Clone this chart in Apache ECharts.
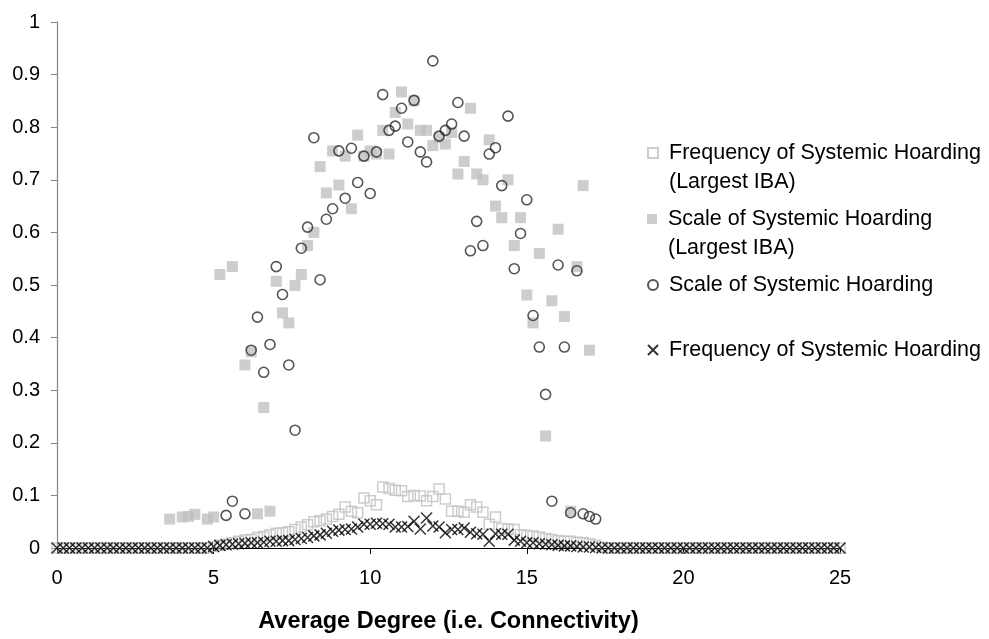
<!DOCTYPE html>
<html>
<head>
<meta charset="utf-8">
<script src="https://cdn.jsdelivr.net/npm/echarts@6/dist/echarts.min.js"></script>
<style>html,body{margin:0;padding:0;background:#fff}#c{width:989px;height:639px}</style>
</head>
<body>
<div id="c"></div>
<script>
// Average degree grid (x values)
var degree = [
0,0.2,0.4,0.6,0.8,1,1.2,1.4,1.6,1.8,
2,2.2,2.4,2.6,2.8,3,3.2,3.4,3.6,3.8,
4,4.2,4.4,4.6,4.8,5,5.2,5.4,5.6,5.8,
6,6.2,6.4,6.6,6.8,7,7.2,7.4,7.6,7.8,
8,8.2,8.4,8.6,8.8,9,9.2,9.4,9.6,9.8,
10,10.2,10.4,10.6,10.8,11,11.2,11.4,11.6,11.8,
12,12.2,12.4,12.6,12.8,13,13.2,13.4,13.6,13.8,
14,14.2,14.4,14.6,14.8,15,15.2,15.4,15.6,15.8,
16,16.2,16.4,16.6,16.8,17,17.2,17.4,17.6,17.8,
18,18.2,18.4,18.6,18.8,19,19.2,19.4,19.6,19.8,
20,20.2,20.4,20.6,20.8,21,21.2,21.4,21.6,21.8,
22,22.2,22.4,22.6,22.8,23,23.2,23.4,23.6,23.8,
24,24.2,24.4,24.6,24.8,25
];
// Frequency of Systemic Hoarding (Largest IBA) - open squares
var freqLargest = [
0,0,0,0,0,0,0,0,0,0,
0,0,0,0,0,0,0,0,0,0,
0,0,0,0,0,0.003,0.005,0.007,0.01,0.013,
0.015,0.016,0.02,0.022,0.025,0.028,0.029,0.031,0.035,0.04,
0.044,0.05,0.052,0.055,0.06,0.064,0.078,0.07,0.067,0.095,
0.09,0.082,0.116,0.113,0.11,0.109,0.098,0.1,0.099,0.09,
0.098,0.112,0.093,0.07,0.07,0.068,0.082,0.078,0.068,0.045,
0.059,0.037,0.036,0.035,0.025,0.024,0.023,0.021,0.018,0.016,
0.014,0.013,0.013,0.011,0.01,0.008,0.005,0.002,0,0,
0,0,0,0,0,0,0,0,0,0,
0,0,0,0,0,0,0,0,0,0,
0,0,0,0,0,0,0,0,0,0,
0,0,0,0,0,0
];
// Scale of Systemic Hoarding (Largest IBA) - filled squares
var scaleLargest = [
null,null,null,null,null,null,null,null,null,null,
null,null,null,null,null,null,null,null,0.055,null,
0.059,0.06,0.064,null,0.055,0.059,0.52,null,0.535,null,
0.348,0.373,0.065,0.267,0.07,0.507,0.447,0.428,0.499,0.52,
0.575,0.6,0.725,0.675,0.755,0.69,0.745,0.645,0.785,0.745,
0.755,0.749,0.794,0.749,0.828,0.867,0.806,0.85,0.794,0.794,
0.765,0.78,0.768,0.79,0.711,0.735,0.836,0.711,0.7,0.776,
0.65,0.628,0.7,0.575,0.628,0.481,0.428,0.56,0.213,0.47,
0.606,0.44,0.07,0.535,0.689,0.376,null,null,null,null,
null,null,null,null,null,null,null,null,null,null,
null,null,null,null,null,null,null,null,null,null,
null,null,null,null,null,null,null,null,null,null,
null,null,null,null,null,null
];
// Scale of Systemic Hoarding - open circles
var scale = [
null,null,null,null,null,null,null,null,null,null,
null,null,null,null,null,null,null,null,null,null,
null,null,null,null,null,null,null,0.062,0.089,null,
0.065,0.376,0.439,0.334,0.387,0.535,0.482,0.348,0.224,0.57,
0.61,0.78,0.51,0.625,0.645,0.755,0.665,0.76,0.695,0.745,
0.674,0.753,0.862,0.794,0.802,0.836,0.772,0.851,0.753,0.734,
0.926,0.783,0.794,0.806,0.847,0.783,0.565,0.621,0.575,0.749,
0.761,0.689,0.821,0.531,0.598,0.662,0.442,0.382,0.292,0.089,
0.538,0.382,0.067,0.527,0.065,0.06,0.055,null,null,null,
null,null,null,null,null,null,null,null,null,null,
null,null,null,null,null,null,null,null,null,null,
null,null,null,null,null,null,null,null,null,null,
null,null,null,null,null,null
];
// Frequency of Systemic Hoarding - crosses
var freq = [
0,0,0,0,0,0,0,0,0,0,
0,0,0,0,0,0,0,0,0,0,
0,0,0,0,0,0.003,0.005,0.006,0.007,0.008,
0.009,0.01,0.01,0.011,0.013,0.013,0.014,0.014,0.016,0.018,
0.02,0.023,0.025,0.028,0.032,0.034,0.035,0.036,0.04,0.045,
0.045,0.047,0.046,0.045,0.04,0.04,0.041,0.051,0.036,0.057,
0.042,0.04,0.029,0.035,0.035,0.038,0.03,0.027,0.026,0.013,
0.027,0.026,0.026,0.015,0.013,0.01,0.01,0.008,0.007,0.006,
0.005,0.004,0.004,0.003,0.002,0.002,0.001,0,0,0,
0,0,0,0,0,0,0,0,0,0,
0,0,0,0,0,0,0,0,0,0,
0,0,0,0,0,0,0,0,0,0,
0,0,0,0,0,0
];
var names = [
  'Frequency of Systemic Hoarding (Largest IBA)',
  'Scale of Systemic Hoarding (Largest IBA)',
  'Scale of Systemic Hoarding',
  'Frequency of Systemic Hoarding'
];
// leading blank line keeps the legend symbol level with the first text line
var legendLabels = [
  ' \nFrequency of Systemic Hoarding\n(Largest IBA)',
  ' \nScale of Systemic Hoarding\n(Largest IBA)',
  'Scale of Systemic Hoarding',
  'Frequency of Systemic Hoarding'
];

function pairs(ys) {
  var out = [];
  for (var i = 0; i < degree.length; i++) {
    if (ys[i] !== null && ys[i] !== undefined) out.push([degree[i], ys[i]]);
  }
  return out;
}

var FONT = 'Liberation Sans, Arial, sans-serif';
var LH = 29;
function legendFor(i, topY, twoLine) {
  return {
    show: true,
    orient: 'vertical',
    left: 647,
    top: twoLine ? topY - 1.5 * LH : topY - LH / 2,
    padding: 0,
    itemWidth: 10,
    itemHeight: 10,
    selectedMode: false,
    data: [names[i]],
    formatter: function () { return legendLabels[i]; },
    textStyle: {
      fontFamily: FONT, fontSize: 21.5, color: '#000', lineHeight: LH,
      padding: [0, 0, 0, 6]
    }
  };
}

var chart = echarts.init(document.getElementById('c'), null, {renderer: 'canvas'});
chart.setOption({
  animation: false,
  backgroundColor: '#fff',
  grid: {left: 57, right: 149, top: 22, bottom: 87, containLabel: false},
  legend: [
    legendFor(0, 153, true),
    legendFor(1, 219, true),
    legendFor(2, 285, false),
    legendFor(3, 350, false)
  ],
  xAxis: {
    type: 'value', min: 0, max: 25, interval: 5,
    name: 'Average Degree (i.e. Connectivity)',
    nameLocation: 'middle', nameGap: 62,
    nameTextStyle: {fontFamily: FONT, fontSize: 23.5, fontWeight: 'bold', color: '#000'},
    axisLine: {show: true, onZero: false, lineStyle: {color: '#000', width: 1}},
    axisTick: {show: true, inside: false, length: 6, lineStyle: {color: '#000'}},
    axisLabel: {fontFamily: FONT, fontSize: 20, color: '#000', margin: 20},
    splitLine: {show: false}
  },
  yAxis: {
    type: 'value', min: 0, max: 1, interval: 0.1,
    axisLine: {show: true, lineStyle: {color: '#868686', width: 1.2}},
    axisTick: {show: true, inside: false, length: 6, lineStyle: {color: '#868686'}},
    axisLabel: {fontFamily: FONT, fontSize: 20, color: '#000', margin: 17},
    splitLine: {show: false}
  },
  series: [
    {
      name: names[0], type: 'scatter', data: pairs(freqLargest),
      symbol: 'rect', symbolSize: 10,
      itemStyle: {color: 'rgba(255,255,255,0)', borderColor: '#c0c0c0', borderWidth: 1.5},
      emphasis: {disabled: true}
    },
    {
      name: names[1], type: 'scatter', data: pairs(scaleLargest),
      symbol: 'rect', symbolSize: 11,
      itemStyle: {color: '#c0c0c0', borderWidth: 0},
      emphasis: {disabled: true}
    },
    {
      name: names[2], type: 'scatter', data: pairs(scale),
      symbol: 'circle', symbolSize: 10,
      itemStyle: {color: 'rgba(255,255,255,0)', borderColor: '#2b2b2b', borderWidth: 1.6},
      emphasis: {disabled: true}
    },
    {
      name: names[3], type: 'scatter', data: pairs(freq),
      symbol: 'path://M0,0L10,10M10,0L0,10', symbolSize: 11,
      itemStyle: {color: '#000', borderColor: '#000', borderWidth: 1.5},
      emphasis: {disabled: true}
    }
  ]
});
</script>
</body>
</html>
